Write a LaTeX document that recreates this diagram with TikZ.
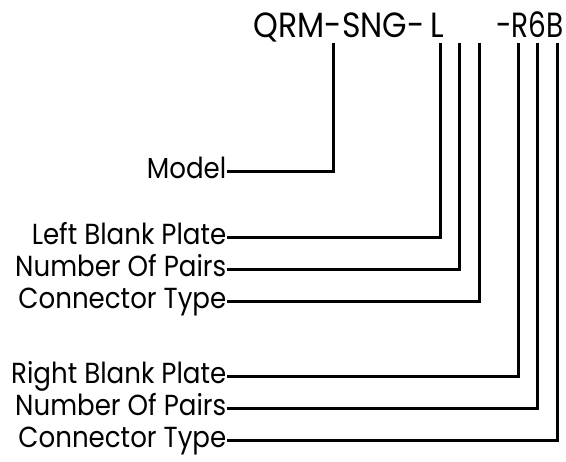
\documentclass[tikz,border=0pt]{standalone}
\usepackage{fontspec}
\newfontfamily\labfont[FakeStretch=0.9]{Poppins}
\newfontfamily\ttlfont[FakeStretch=0.9]{Poppins}
\newfontfamily\ttlfontb[FakeStretch=0.8]{Poppins}
\begin{document}
\begin{tikzpicture}[x=1pt,y=1pt,
  lab/.style={anchor=east, inner sep=1.5pt, text height=20pt, text depth=7pt, font=\labfont\fontsize{29}{29}\selectfont},
  ttl/.style={anchor=base east, inner sep=0pt, font=\ttlfont\fontsize{35}{35}\selectfont},
  conn/.style={line width=3pt, line cap=rect}]
\useasboundingbox (0,0) rectangle (566,462);
\node[ttl] (t1) at (444,424) {QRM-SNG-\hspace{-3pt} L};
\node[ttl, font=\ttlfontb\fontsize{35}{35}\selectfont] (t2) at (564,424) {-R6B};
\coordinate (cm) at (333,417);
\coordinate (c1) at (440,417);
\coordinate (c2) at (459,417);
\coordinate (c3) at (479,417);
\coordinate (c4) at (518,417);
\coordinate (c5) at (537,417);
\coordinate (c6) at (557,417);
\node[lab] (lm) at (228,290) {Model};
\node[lab] (l1) at (228,224) {Left Blank Plate};
\node[lab] (l2) at (228,192) {Number Of Pairs};
\node[lab] (l3) at (228,160) {Connector Type};
\node[lab] (l4) at (228,85) {Right Blank Plate};
\node[lab] (l5) at (228,53) {Number Of Pairs};
\node[lab] (l6) at (228,21) {Connector Type};
\draw[conn] (cm) |- (lm.east);
\draw[conn] (c1) |- (l1.east);
\draw[conn] (c2) |- (l2.east);
\draw[conn] (c3) |- (l3.east);
\draw[conn] (c4) |- (l4.east);
\draw[conn] (c5) |- (l5.east);
\draw[conn] (c6) |- (l6.east);
\end{tikzpicture}
\end{document}
